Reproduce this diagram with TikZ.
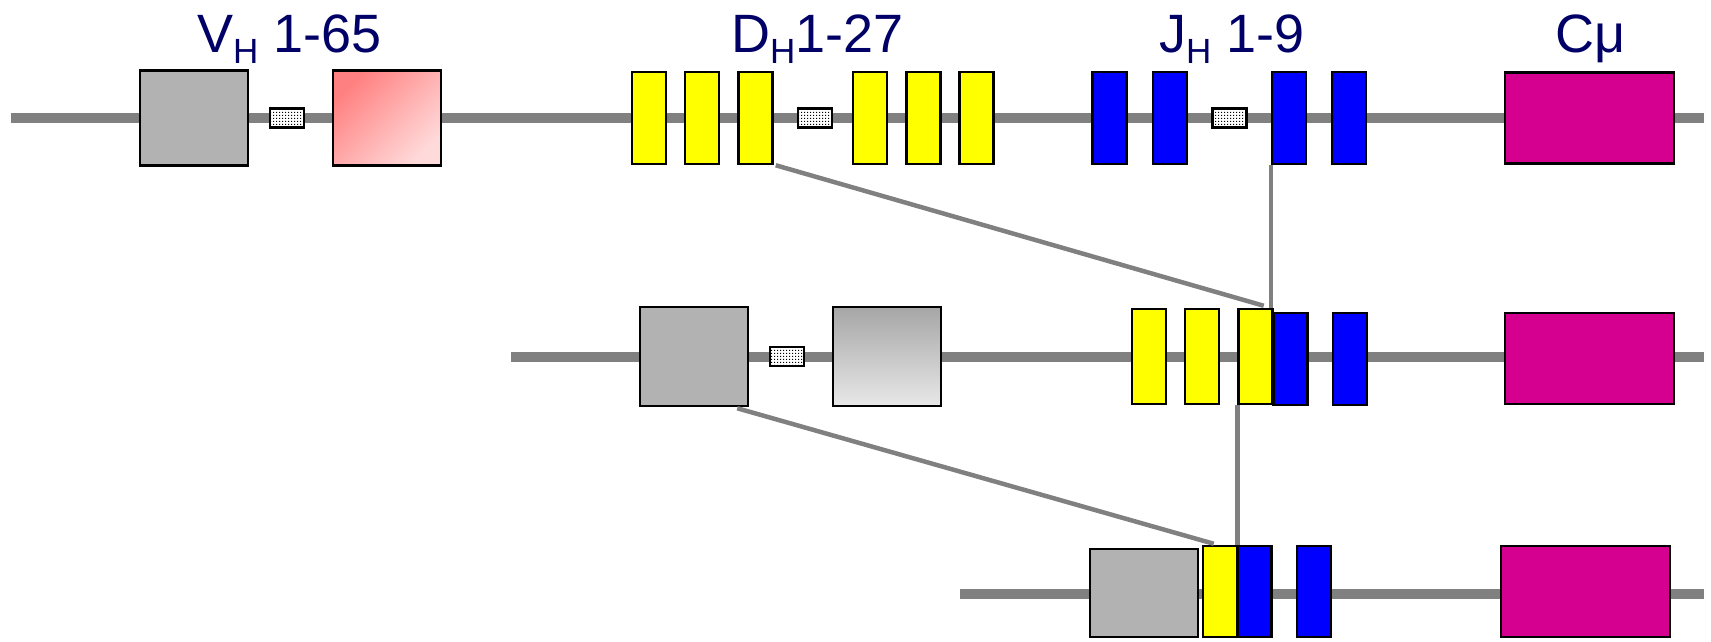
\documentclass[tikz,border=0pt]{standalone}
\usepackage{fontspec}
\setmainfont{Liberation Sans}
\usetikzlibrary{patterns,calc}
\definecolor{navy}{HTML}{000066}
\definecolor{chrom}{HTML}{808080}
\definecolor{vgray}{HTML}{B2B2B2}
\definecolor{dyellow}{HTML}{FFFF00}
\definecolor{jblue}{HTML}{0000FF}
\definecolor{cmag}{HTML}{D60090}
\definecolor{pinkA}{HTML}{FF8080}
\definecolor{pinkB}{HTML}{FFDADA}
\definecolor{grayA}{HTML}{A6A6A6}
\definecolor{grayB}{HTML}{E8E8E8}
% small square dots on a tight grid, for the spacer elements
\pgfdeclarepatternformonly{densedots}{\pgfpointorigin}{\pgfpoint{3pt}{3pt}}{\pgfpoint{3pt}{3pt}}{%
  \pgfpathrectangle{\pgfpointorigin}{\pgfpoint{1.5pt}{1.5pt}}\pgfusepath{fill}}
\newcommand{\lowsub}[1]{\raisebox{-11pt}{\fontsize{35}{35}\selectfont #1}}
\tikzset{
  backbone/.style={draw=chrom, line width=10pt},
  joinline/.style={draw=chrom, line width=4.5pt},
  seg/.style={rectangle, draw=black, line width=2.5pt, inner sep=0pt},
  vseg/.style={seg, fill=vgray, minimum width=108pt, minimum height=95pt},
  dseg/.style={seg, fill=dyellow, minimum width=34pt, minimum height=92pt},
  jseg/.style={seg, fill=jblue, minimum width=34pt, minimum height=92pt},
  cseg/.style={seg, fill=cmag, minimum width=169pt, minimum height=91pt},
  spacer/.style={seg, line width=2.2pt, preaction={fill=white}, pattern=densedots,
    minimum width=34pt, minimum height=19pt},
  lbl/.style={inner sep=0pt, anchor=base west, text=navy,
    font=\fontsize{54}{60}\selectfont}
}
\begin{document}
\begin{tikzpicture}[x=1pt, y=-1pt]
\useasboundingbox (0,0) rectangle (1711,641);

% ---------- germline locus ----------
\coordinate (r1a) at (11,118);
\coordinate (r1b) at (1704,118);
\draw[backbone] (r1a) -- (r1b);

\node[vseg] (v1) at (194,118) {};
\node[spacer] (s1) at (287,118) {};
\node[seg, minimum width=108pt, minimum height=95pt,
      top color=pinkA, bottom color=pinkB, shading angle=45] (v2) at (387,118) {};

\node[dseg] (d1) at (649,118) {};
\node[dseg] (d2) at (702,118) {};
\node[dseg] (d3) at (755.5,118) {};
\node[spacer] (s2) at (815,118) {};
\node[dseg] (d4) at (870,118) {};
\node[dseg] (d5) at (923.5,118) {};
\node[dseg] (d6) at (976.5,118) {};

\node[jseg] (j1) at (1109.5,118) {};
\node[jseg] (j2) at (1170,118) {};
\node[spacer] (s3) at (1229.5,118) {};
\node[jseg] (j3) at (1289,118) {};
\node[jseg] (j4) at (1349,118) {};

\node[cseg] (c1) at (1589.5,118) {};

\node[lbl] (lv) at (197,52) {V\lowsub{H} 1-65};
\node[lbl] (ld) at (731,52) {D\lowsub{H}1-27};
\node[lbl] (lj) at (1159,52) {J\lowsub{H} 1-9};
\node[lbl] (lc) at (1555,52) {Cμ};

% ---------- D-J joined ----------
\coordinate (r2a) at (511,357);
\coordinate (r2b) at (1704,357);
\draw[backbone] (r2a) -- (r2b);

\node[vseg, minimum height=99pt] (v21) at (694,356.5) {};
\node[spacer] (s21) at (787,356.5) {};
\node[seg, minimum width=108pt, minimum height=99pt,
      top color=grayA, bottom color=grayB] (v22) at (887,356.5) {};

\node[dseg, minimum height=95pt] (d21) at (1149,356.5) {};
\node[dseg, minimum height=95pt] (d22) at (1202,356.5) {};
\node[dseg, minimum height=95pt] (d23) at (1255.5,356.5) {};
\node[jseg] (j21) at (1290.5,359) {};
\node[jseg] (j22) at (1350,359) {};

\node[cseg] (c2) at (1589.5,358.5) {};

% ---------- V-DJ joined ----------
\coordinate (r3a) at (960,594);
\coordinate (r3b) at (1704,594);
\draw[backbone] (r3a) -- (r3b);

\node[vseg, minimum height=88pt] (v31) at (1144,593) {};
\node[dseg, minimum height=91pt] (d31) at (1220,591.5) {};
\node[jseg, minimum height=91pt] (j31) at (1254.5,591.5) {};
\node[jseg, minimum height=91pt] (j32) at (1314,591.5) {};

\node[cseg, minimum height=91pt] (c3) at (1585.5,591.5) {};

% ---------- rearrangement lines ----------
\draw[joinline] ($(d3.south east)+(2,0)$) -- ($(d23.north east)+(-10,-2)$);
\draw[joinline] (j3.south west) -- (j3.south west |- d23.north);
\draw[joinline] ($(v21.south east)+(-12,1)$) -- ($(d31.north west)+(12,-1)$);
\draw[joinline] (d23.south west) -- (d23.south west |- d31.north);
\end{tikzpicture}
\end{document}
